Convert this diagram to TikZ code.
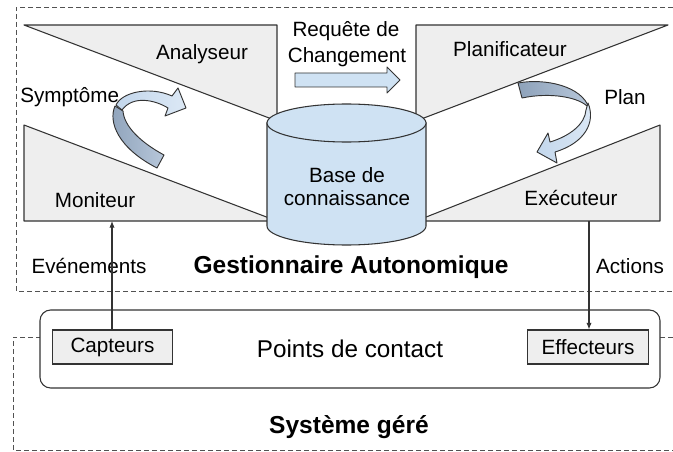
\documentclass[tikz,border=0pt]{standalone}
\usepackage{fontspec}
\setmainfont{Liberation Sans}
\usetikzlibrary{arrows.meta}
\definecolor{kbblue}{HTML}{CFE2F3}
\definecolor{panel}{HTML}{EEEEEE}
\definecolor{linec}{HTML}{333333}
\definecolor{ribdarkA}{HTML}{8EA2BA}
\definecolor{ribdarkB}{HTML}{B7C7DA}
\definecolor{riblightA}{HTML}{C3D7EC}
\definecolor{riblightB}{HTML}{DCE8F5}
\begin{document}
\begin{tikzpicture}[x=0.75pt,y=-0.75pt,
  panelshape/.style={fill=panel,draw=linec,line width=0.8pt,line join=round},
  frame/.style={draw=linec!85,line width=0.7pt,dash pattern=on 3.75pt off 2.25pt},
  lbl/.style={font=\fontsize{15.5}{18}\selectfont,inner sep=0pt,anchor=base},
  big/.style={font=\bfseries\fontsize{18.4}{22}\selectfont,inner sep=0pt,anchor=base},
  sensor/.style={fill=panel,draw=linec,line width=0.8pt,minimum width=90.5pt,minimum height=25.5pt,inner sep=0pt,font=\fontsize{15.5}{18}\selectfont},
  ribbonlight/.style={left color=riblightA,right color=riblightB,draw=linec,line width=0.7pt,line join=round},
  ribbondark/.style={left color=ribdarkA,right color=ribdarkB,draw=linec,line width=0.7pt,line join=round},
  flow/.style={draw=linec,line width=0.8pt,-{Latex[length=5pt,width=4pt]}}
]
\useasboundingbox (0,0) rectangle (673,452);

% dashed frames
\draw[frame] (673,7) -- (16,7) -- (16,291) -- (673,291);
\draw[frame] (673,337) -- (13,337) -- (13,450) -- (673,450);

% panels
\draw[panelshape] (24,25) -- (277,25) -- (277,121) -- cycle;
\draw[panelshape] (24,125) -- (24,221) -- (277,221) -- cycle;
\draw[panelshape] (416,25) -- (668,25) -- (416,121) -- cycle;
\draw[panelshape] (660,125) -- (660,221) -- (416,221) -- cycle;

% knowledge base cylinder
\draw[fill=kbblue,draw=linec,line width=0.8pt]
  (267,123) -- (267,226) .. controls (267,236.5) and (302.6,245) .. (346.5,245)
  .. controls (390.4,245) and (426,236.5) .. (426,226) -- (426,123) -- cycle;
\draw[fill=kbblue,draw=linec,line width=0.8pt]
  (267,123) .. controls (267,112.5) and (302.6,104) .. (346.5,104)
  .. controls (390.4,104) and (426,112.5) .. (426,123)
  .. controls (426,133.5) and (390.4,142) .. (346.5,142)
  .. controls (302.6,142) and (267,133.5) .. (267,123) -- cycle;
\node[lbl] (kb1) at (347,182) {Base de};
\node[lbl] (kb2) at (347,205) {connaissance};

% texts
\node[lbl] (analyseur) at (202,60) {Analyseur};
\node[lbl] (planif) at (510,57) {Planificateur};
\node[lbl] (moniteur) at (95,207) {Moniteur};
\node[lbl] (executeur) at (571,205) {Exécuteur};
\node[lbl,anchor=base west] (symptome) at (20,103) {Symptôme};
\node[lbl] (plan) at (625,105) {Plan};
\node[lbl] (req1) at (346,37) {Requête de};
\node[lbl] (req2) at (347,63) {Changement};

% change request arrow
\draw[fill=kbblue,draw=linec,line width=0.7pt,line join=round]
  (295,73) -- (387,73) -- (387,67) -- (400,80) -- (387,93) -- (387,87) -- (295,87) -- cycle;

% symptome ribbon arrow
\draw[ribbondark] (115,106) .. controls (108,122) and (118,148) .. (157,168)
  -- (164,155) .. controls (140,142) and (124,126) .. (123,111) -- cycle;
\draw[ribbonlight] (116,105) .. controls (122,92) and (150,86) .. (172,96)
  -- (178,88) -- (186,108) -- (165,116) -- (168,108)
  .. controls (155,100) and (133,95) .. (122,110) -- cycle;

% plan ribbon arrow
\draw[ribbondark] (518,83) .. controls (545,78) and (582,86) .. (589,108)
  .. controls (580,97) and (550,92) .. (522,98) -- cycle;
\draw[ribbonlight] (588,103) .. controls (596,122) and (585,143) .. (555,152)
  -- (557,163) -- (537,152) -- (548,133) -- (550,142)
  .. controls (570,136) and (585,124) .. (586,110) -- cycle;

% bottom labels of manager
\node[lbl] (evts) at (89,273) {Evénements};
\node[big] (gest) at (351,273) {Gestionnaire Autonomique};
\node[lbl] (actions) at (630,273) {Actions};

% managed system
\node[draw=linec,fill=white,line width=0.8pt,rounded corners=8pt,minimum width=465pt,minimum height=58.5pt,inner sep=0pt,font=\fontsize{18.2}{22}\selectfont] (contact) at (350,349) {Points de contact};
\node[sensor] (capteurs) at (112.5,347) {Capteurs};
\node[sensor] (effecteurs) at (588,347) {Effecteurs};
\node[big] (systeme) at (349,433) {Système géré};

% flows
\coordinate (monbase) at (112,221);
\coordinate (exebase) at (589,221);
\draw[flow] (capteurs.north -| monbase) -- (monbase);
\draw[flow] (exebase) -- (exebase |- effecteurs.north);
\end{tikzpicture}
\end{document}
